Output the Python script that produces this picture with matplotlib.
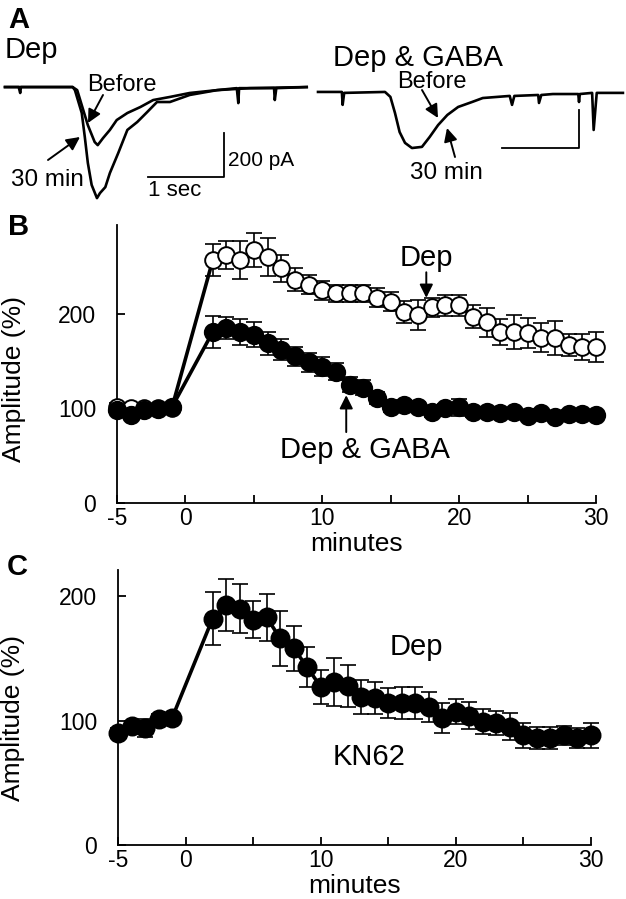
import numpy as np
import matplotlib
matplotlib.use("Agg")
import matplotlib.pyplot as plt

plt.rcParams['font.family'] = ['Liberation Sans', 'DejaVu Sans']

# ---- panel A: example currents (time in s, current in pA from baseline)
dep_before_t = [0, 0.18, 0.20, 0.21, 0.89, 0.95, 1.03, 1.09, 1.18, 1.22, 1.29, 1.38, 1.47,
                1.61, 1.78, 1.95, 2.17, 2.43, 2.79, 3.05, 3.07, 3.08, 3.22, 3.54, 3.55,
                3.57, 3.97]
dep_before_i = [0, 0, -27, 0, 0, -14, -105, -173, -250, -264, -232, -195, -150,
                -118, -91, -59, -45, -27, -14, -5, -73, -5, -5, -5, -59,
                -5, 0]
dep_30_t = [0, 0.89, 0.92, 1.01, 1.05, 1.09, 1.14, 1.21, 1.25, 1.32, 1.38, 1.49, 1.61,
            1.74, 1.87, 2.00, 2.17, 2.43, 2.79, 3.22, 3.97]
dep_30_i = [0, 0, -14, -118, -227, -345, -445, -505, -482, -455, -391, -300, -195,
            -159, -114, -68, -68, -36, -14, -5, 0]
gaba_t = [0, 0.31, 0.32, 0.34, 0.87, 0.94, 1.00, 1.06, 1.13, 1.22, 1.35, 1.45, 1.56,
          1.68, 1.82, 2.00, 2.14, 2.49, 2.52, 2.55, 2.86, 2.87, 2.90, 3.05, 3.38,
          3.39, 3.40, 3.56, 3.58, 3.62, 3.96]
gaba_i = [0, 0, -68, -5, 0, -26, -111, -211, -268, -295, -289, -237, -174,
          -121, -79, -53, -32, -21, -68, -21, -16, -58, -16, -11, -11,
          -53, -11, -5, -200, -5, -5]

# ---- panels B and C: amplitude (%) vs minutes
minutes = [-5, -4, -3, -2, -1] + list(range(2, 31))

dep = [102, 100, 100, 100, 100,
       257, 262, 257, 268, 260, 248, 236, 231, 225, 222, 222, 222, 217, 213, 202,
       199, 207, 209, 209, 197, 191, 181, 181, 180, 175, 175, 167, 165, 165]
dep_err = [4, 3, 3, 3, 3,
           17, 15, 20, 18, 20, 14, 12, 10, 10, 9, 9, 9, 10, 10, 12,
           16, 10, 11, 11, 12, 15, 14, 18, 16, 15, 18, 12, 14, 16]

dep_gaba = [98, 93, 98, 99, 101,
            181, 185, 181, 178, 169, 162, 155, 149, 144, 139, 125, 122, 111, 102, 104,
            102, 96, 100, 101, 96, 96, 95, 96, 92, 95, 91, 94, 94, 93]
dep_gaba_err = [3, 4, 3, 3, 3,
                17, 12, 14, 13, 12, 11, 10, 10, 10, 9, 8, 8, 6, 6, 5,
                5, 5, 5, 9, 5, 4, 4, 4, 4, 4, 4, 4, 4, 4]

kn62 = [90, 96, 94, 101, 102,
        182, 193, 190, 181, 183, 166, 158, 143, 127, 131, 128, 119, 118, 114, 114,
        114, 111, 102, 107, 104, 99, 98, 95, 88, 86, 86, 88, 86, 88]
kn62_err = [4, 4, 7, 4, 4,
            21, 21, 20, 15, 19, 22, 18, 16, 14, 19, 17, 14, 13, 12, 13,
            13, 12, 12, 10, 11, 10, 10, 11, 10, 9, 9, 8, 8, 10]

W, H = 626, 899


def box(x0, y0, x1, y1):
    return [x0 / W, 1 - y1 / H, (x1 - x0) / W, (y1 - y0) / H]


def fp(x, y):
    return (x, H - y)


fig = plt.figure(figsize=(W / 100, H / 100), dpi=100)

# ---------------- panel A
axL = fig.add_axes(box(0, 60, 313, 210))
axL.plot(dep_before_t, dep_before_i, color='k', lw=1.9)
axL.plot(dep_30_t, dep_30_i, color='k', lw=1.9)
axL.plot([1.88, 2.88, 2.88], [-409, -409, -209], color='k', lw=1.3)
axL.set_xlim(-5 / 76, 308 / 76)
axL.set_ylim(-559, 123)
axL.axis('off')

axR = fig.add_axes(box(313, 60, 626, 210))
axR.plot(gaba_t, gaba_i, color='k', lw=1.9)
axR.plot([2.39, 3.39, 3.39], [-295, -295, -95], color='k', lw=1.3)
axR.set_xlim(-5 / 77, 308 / 77)
axR.set_ylim(-621, 168)
axR.axis('off')

fig.text(8 / W, 1 - 20 / H, 'A', fontsize=21, weight='bold', va='center', ha='left')
fig.text(5 / W, 1 - 50 / H, 'Dep', fontsize=21, va='center', ha='left')
fig.text(333 / W, 1 - 58 / H, 'Dep & GABA', fontsize=21, va='center', ha='left')
fig.text(228 / W, 1 - 160 / H, '200 pA', fontsize=15, va='center', ha='left')
fig.text(175 / W, 1 - 190 / H, '1 sec', fontsize=16, va='center', ha='center')

arrow = dict(arrowstyle='-|>', color='k', lw=1.4, mutation_scale=20, shrinkA=0, shrinkB=0)
fig.text(122 / W, 1 - 85 / H, 'Before', fontsize=17, va='center', ha='center')
fig.text(47 / W, 1 - 180 / H, '30 min', fontsize=17.5, va='center', ha='center')
fig.text(432 / W, 1 - 82 / H, 'Before', fontsize=17, va='center', ha='center')
fig.text(446 / W, 1 - 173 / H, '30 min', fontsize=17.5, va='center', ha='center')
for start, tip in [((103, 95), (88, 123)), ((48, 160), (80, 137)),
                   ((422, 90), (438, 118)), ((455, 157), (447, 128))]:
    fig.add_artist(matplotlib.patches.FancyArrowPatch(
        fp(*start), fp(*tip), transform=None, **arrow))


def style(ax, ytop):
    ax.set_xlim(-5, 30)
    ax.set_ylim(0, ytop)
    for s in ['top', 'right']:
        ax.spines[s].set_visible(False)
    for s in ['left', 'bottom']:
        ax.spines[s].set_linewidth(1.3)
    ax.set_xticks(range(-5, 31, 5))
    ax.set_xticklabels(['-5', '0', '', '10', '', '20', '', '30'])
    ax.set_yticks([0, 100, 200])
    ax.tick_params(direction='in', length=6, width=1.3, labelsize=16.5)
    ax.tick_params(axis='y', pad=15)
    ax.tick_params(axis='x', pad=3)
    ax.set_xlabel('minutes', fontsize=19, labelpad=1)
    ax.set_ylabel('Amplitude (%)', fontsize=19)


def series(ax, y, err, face, ms):
    ax.errorbar(minutes, y, yerr=err, fmt='none', ecolor='k', elinewidth=1.2,
                capsize=6, capthick=1.2, zorder=2, clip_on=False)
    ax.plot(minutes, y, '-o', color='k', lw=2.6, ms=ms, mfc=face, mec='k',
            mew=1.4, zorder=3, clip_on=False)


# ---------------- panel B
axB = fig.add_axes(box(117, 225, 596, 503))
series(axB, dep, dep_err, 'white', 12)
series(axB, dep_gaba, dep_gaba_err, 'black', 12.5)
style(axB, 294)
axB.yaxis.set_label_coords(-0.19, 0.446)
axB.text(17.6, 259, 'Dep', fontsize=21, ha='center', va='center')
axB.annotate('', xy=(17.6, 217), xytext=(17.6, 244), arrowprops=arrow)
axB.text(13.1, 56, 'Dep & GABA', fontsize=21, ha='center', va='center')
axB.annotate('', xy=(11.75, 114), xytext=(11.75, 75), arrowprops=arrow)
fig.text(8 / W, 1 - 227 / H, 'B', fontsize=21, weight='bold', va='center', ha='left')

# ---------------- panel C
axC = fig.add_axes(box(118, 570, 591, 845))
series(axC, kn62, kn62_err, 'black', 13)
style(axC, 221)
axC.yaxis.set_label_coords(-0.197, 0.462)
axC.text(17.1, 159, 'Dep', fontsize=21, ha='center', va='center')
axC.text(13.6, 71, 'KN62', fontsize=21, ha='center', va='center')
fig.text(7 / W, 1 - 567 / H, 'C', fontsize=21, weight='bold', va='center', ha='left')

fig.savefig('out.png', dpi=100)
